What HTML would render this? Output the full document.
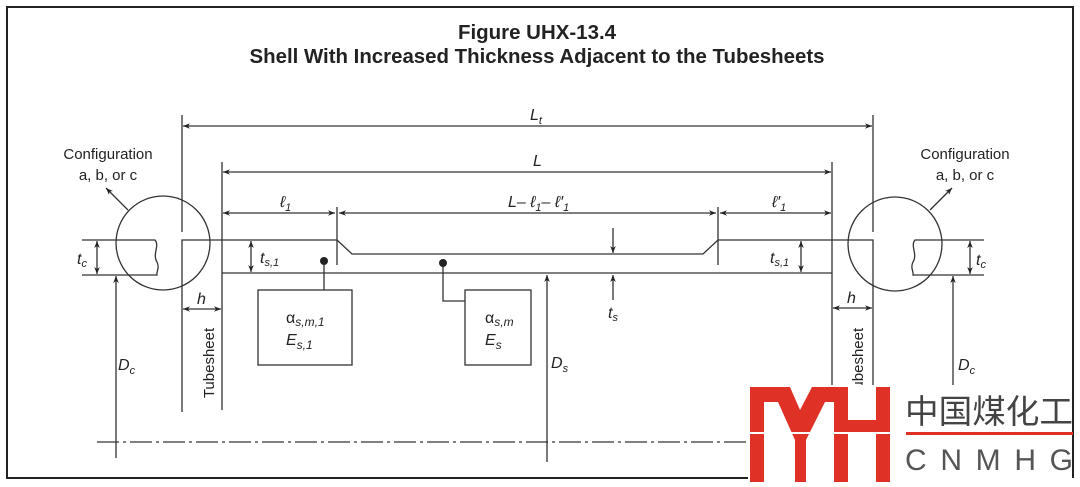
<!DOCTYPE html>
<html><head><meta charset="utf-8"><style>
html,body{margin:0;padding:0;background:#fff}
svg{display:block}
text{font-family:"Liberation Sans",sans-serif;fill:#222}
.i{font-style:italic}
</style></head><body>
<svg width="1080" height="487" viewBox="0 0 1080 487" xmlns="http://www.w3.org/2000/svg">
<defs>
<marker id="a" viewBox="0 0 10 10" refX="10" refY="5" markerWidth="9" markerHeight="7" orient="auto-start-reverse" markerUnits="userSpaceOnUse"><path d="M0,1 L10,5 L0,9 L3,5 z" fill="#222"/></marker>
</defs>
<rect x="7" y="7" width="1066" height="471" fill="none" stroke="#222" stroke-width="2"/>
<text x="537" y="39" text-anchor="middle" font-weight="bold" font-size="20" style="font-family:'Liberation Sans Narrow','Liberation Sans',sans-serif" textLength="158" lengthAdjust="spacingAndGlyphs">Figure UHX-13.4</text>
<text x="537" y="63" text-anchor="middle" font-weight="bold" font-size="20" style="font-family:'Liberation Sans Narrow','Liberation Sans',sans-serif" textLength="575" lengthAdjust="spacingAndGlyphs">Shell With Increased Thickness Adjacent to the Tubesheets</text>

<g stroke="#333" stroke-width="1.3" fill="none">
<line x1="182" y1="115" x2="182" y2="232"/><line x1="873" y1="115" x2="873" y2="232"/>
<line x1="183" y1="126" x2="872" y2="126" marker-start="url(#a)" marker-end="url(#a)"/>
<line x1="222" y1="162" x2="222" y2="410"/><line x1="832" y1="162" x2="832" y2="410"/>
<line x1="223" y1="172" x2="831" y2="172" marker-start="url(#a)" marker-end="url(#a)"/>
<line x1="337" y1="207" x2="337" y2="265"/><line x1="718" y1="207" x2="718" y2="265"/>
<line x1="223" y1="213" x2="335" y2="213" marker-start="url(#a)" marker-end="url(#a)"/>
<line x1="339" y1="213" x2="716" y2="213" marker-start="url(#a)" marker-end="url(#a)"/>
<line x1="720" y1="213" x2="831" y2="213" marker-start="url(#a)" marker-end="url(#a)"/>
<polyline points="182,412 182,240 337,240 352,254 703,254 718,240 873,240 873,412"/>
<line x1="222" y1="273" x2="832" y2="273"/>
<circle cx="163" cy="243" r="47"/><circle cx="895" cy="244" r="47"/>
<path d="M82,240 H155 C160,246 152,254 157,262 C160,268 156,272 157,275 H82"/>
<path d="M984,240 H915 C910,246 918,254 913,262 C910,268 914,272 913,275 H984"/>
<line x1="97" y1="241" x2="97" y2="274" marker-start="url(#a)" marker-end="url(#a)"/>
<line x1="970" y1="241" x2="970" y2="274" marker-start="url(#a)" marker-end="url(#a)"/>
<line x1="116" y1="458" x2="116" y2="276" marker-end="url(#a)"/>
<line x1="953" y1="400" x2="953" y2="276" marker-end="url(#a)"/>
<line x1="128" y1="210" x2="106" y2="188" marker-end="url(#a)"/>
<line x1="930" y1="210" x2="952" y2="188" marker-end="url(#a)"/>
<line x1="183" y1="309" x2="221" y2="309" marker-start="url(#a)" marker-end="url(#a)"/>
<line x1="833" y1="308" x2="872" y2="308" marker-start="url(#a)" marker-end="url(#a)"/>
<line x1="251" y1="241" x2="251" y2="272" marker-start="url(#a)" marker-end="url(#a)"/>
<line x1="801" y1="241" x2="801" y2="272" marker-start="url(#a)" marker-end="url(#a)"/>
<rect x="258" y="290" width="94" height="75"/>
<line x1="324" y1="261" x2="324" y2="290"/>
<rect x="465" y="290" width="66" height="75"/>
<polyline points="443,263 443,301 465,301"/>
<line x1="547" y1="462" x2="547" y2="275" marker-end="url(#a)"/>
<line x1="613" y1="228" x2="613" y2="253" marker-end="url(#a)"/>
<line x1="613" y1="300" x2="613" y2="275" marker-end="url(#a)"/>
<line x1="97" y1="442" x2="800" y2="442" stroke-dasharray="22,4,3,4"/>
</g>
<circle cx="324" cy="261" r="4" fill="#222"/><circle cx="443" cy="263" r="4" fill="#222"/>

<g font-size="15">
<text x="108" y="159" text-anchor="middle">Configuration</text>
<text x="108" y="180" text-anchor="middle">a, b, or c</text>
<text x="965" y="159" text-anchor="middle">Configuration</text>
<text x="965" y="180" text-anchor="middle">a, b, or c</text>
<text transform="rotate(-90 209 363)" x="209" y="368" text-anchor="middle">Tubesheet</text>
<text transform="rotate(-90 858 363)" x="858" y="368" text-anchor="middle">Tubesheet</text>
</g>
<g font-size="16">
<text class="i" x="530" y="120">L<tspan font-size="11" dy="4">t</tspan></text>
<text class="i" x="533" y="166">L</text>
<text class="i" x="280" y="207">ℓ<tspan font-size="11" dy="4">1</tspan></text>
<text class="i" x="772" y="207">ℓ′<tspan font-size="11" dy="4">1</tspan></text>
<text class="i" x="508" y="207">L– ℓ<tspan font-size="11" dy="4">1</tspan><tspan dy="-4">– ℓ′</tspan><tspan font-size="11" dy="4">1</tspan></text>
<text class="i" x="77" y="264">t<tspan font-size="11" dy="3">c</tspan></text>
<text class="i" x="976" y="265">t<tspan font-size="11" dy="3">c</tspan></text>
<text class="i" x="260" y="263">t<tspan font-size="11" dy="3">s,1</tspan></text>
<text class="i" x="770" y="263">t<tspan font-size="11" dy="3">s,1</tspan></text>
<text class="i" x="197" y="304">h</text>
<text class="i" x="847" y="303">h</text>
<text class="i" x="118" y="370">D<tspan font-size="11" dy="4">c</tspan></text>
<text class="i" x="958" y="370">D<tspan font-size="11" dy="4">c</tspan></text>
<text class="i" x="551" y="368">D<tspan font-size="11" dy="4">s</tspan></text>
<text class="i" x="608" y="318">t<tspan font-size="11" dy="3">s</tspan></text>
<text x="286" y="323">α<tspan class="i" font-size="12" dy="3">s,m,1</tspan></text>
<text class="i" x="286" y="345">E<tspan font-size="12" dy="4">s,1</tspan></text>
<text x="485" y="323">α<tspan class="i" font-size="12" dy="3">s,m</tspan></text>
<text class="i" x="485" y="345">E<tspan font-size="12" dy="4">s</tspan></text>
</g>

<rect x="748" y="385" width="326" height="102" fill="#fff"/>
<line x1="1073" y1="385" x2="1073" y2="478" stroke="#222" stroke-width="2"/>
<g fill="#e03127">
<polygon points="750,387 790,387 800,410 812,387 848,387 848,482 834,482 834,402 825,402 806,440 806,482 795,482 795,440 778,402 764,402 764,482 750,482"/>
<rect x="848" y="420" width="30" height="13"/>
<rect x="876" y="387" width="14" height="95"/>
</g>
<rect x="748" y="432" width="145" height="2" fill="#fff"/>
<text x="905" y="423" font-size="33" style="font-family:'Noto Sans CJK SC',sans-serif;fill:#444" textLength="168" lengthAdjust="spacingAndGlyphs">中国煤化工</text>
<rect x="906" y="432" width="167" height="3" fill="#e03127"/>
<text x="905" y="470" font-size="30" textLength="168" lengthAdjust="spacing" style="fill:#555">CNMHG</text>
</svg>
</body></html>
